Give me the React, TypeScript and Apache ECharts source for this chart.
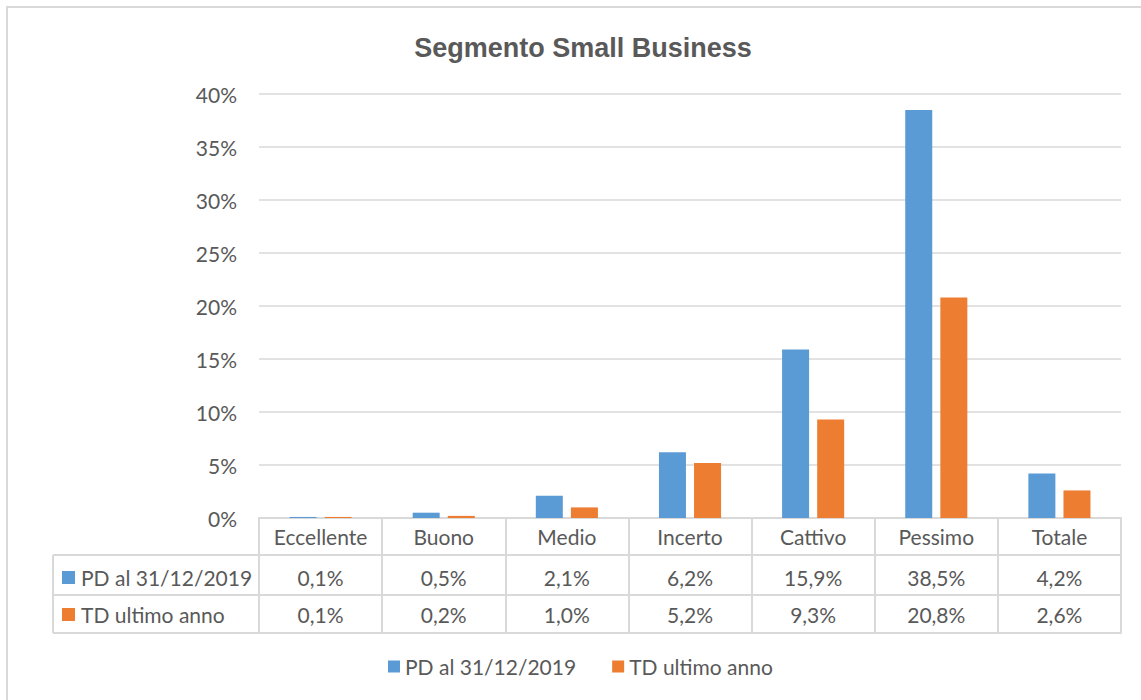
import React, { useEffect, useRef } from "react";
import * as echarts from "echarts";

const TITLE = "Segmento Small Business";
const categories = ["Eccellente", "Buono", "Medio", "Incerto", "Cattivo", "Pessimo", "Totale"];
const seriesNames = ["PD al 31/12/2019", "TD ultimo anno"];
const pdValues = [0.1, 0.5, 2.1, 6.2, 15.9, 38.5, 4.2];
const tdValues = [0.1, 0.2, 1.0, 5.2, 9.3, 20.8, 2.6];
const colors = ["#5B9BD5", "#ED7D31"];

const FONT = "Lato, 'Open Sans', sans-serif";
const TITLE_FONT = "'Liberation Sans', Arial, sans-serif";
const TEXT = "#595959";
const LINE = "#d9d9d9";
const FS = 21;

const fmt = (v: number) => v.toFixed(1).replace(".", ",") + "%";

export default function App() {
  const ref = useRef<HTMLDivElement>(null);
  useEffect(() => {
    document.body.style.margin = "0";
    const chart = echarts.init(ref.current!, undefined, { renderer: "svg" });
    const gridLeft = 259;
    const gridRight = 20;
    const gridTop = 94;
    const gridBottom = 182;
    const base = 700 - gridBottom; // y of 0%
    const rowLines = [base + 37, base + 77, base + 115];
    const rowCenters = [base + 59, base + 96];
    const tableLeft = 53;

    const graphic: any[] = [
      {
        type: "rect",
        shape: { x: 7, y: 7, width: 1300, height: 900 },
        style: { fill: "none", stroke: LINE, lineWidth: 2 },
        silent: true,
      },
      ...rowLines.map((y) => ({
        type: "line",
        shape: { x1: tableLeft, y1: y, x2: gridLeft, y2: y },
        style: { stroke: LINE, lineWidth: 2 },
      })),
      {
        type: "line",
        shape: { x1: tableLeft, y1: rowLines[0], x2: tableLeft, y2: rowLines[2] },
        style: { stroke: LINE, lineWidth: 2 },
      },
      ...seriesNames.flatMap((name, i) => [
        {
          type: "rect",
          shape: { x: 62, y: rowCenters[i] - 6, width: 13, height: 13 },
          style: { fill: colors[i] },
        },
        {
          type: "text",
          x: 81,
          y: rowCenters[i],
          style: {
            text: name,
            font: `${FS}px ${FONT}`,
            fill: TEXT,
            verticalAlign: "middle",
            align: "left",
          },
        },
      ]),
    ];

    const axisCommon = {
      type: "category" as const,
      data: categories,
      position: "bottom" as const,
      axisLine: { show: true, lineStyle: { color: LINE, width: 2 } },
      axisTick: { show: false },
      splitLine: { show: false },
    };

    chart.setOption({
      animation: false,
      title: {
        text: TITLE,
        left: 578,
        textAlign: "center",
        top: 29,
        textStyle: { fontFamily: TITLE_FONT, fontSize: 27, fontWeight: "bold", color: TEXT },
      },
      grid: { left: gridLeft, right: gridRight, top: gridTop, bottom: gridBottom, containLabel: false },
      legend: {
        data: seriesNames,
        left: 383,
        top: 651,
        icon: "rect",
        itemWidth: 12,
        itemHeight: 12,
        itemGap: 36,
        textStyle: { fontFamily: FONT, fontSize: FS, color: TEXT },
      },
      xAxis: [
        {
          ...axisCommon,
          axisTick: { show: true, interval: 0, length: 115, lineStyle: { color: LINE, width: 2 } },
          axisLabel: { interval: 0, margin: 8, fontFamily: FONT, fontSize: FS, color: TEXT },
        },
        {
          ...axisCommon,
          offset: 37,
          axisLabel: {
            interval: 0,
            margin: 12,
            fontFamily: FONT,
            fontSize: FS,
            color: TEXT,
            formatter: (_v: string, i: number) => fmt(pdValues[i]),
          },
        },
        {
          ...axisCommon,
          offset: 77,
          axisLabel: {
            interval: 0,
            margin: 9,
            fontFamily: FONT,
            fontSize: FS,
            color: TEXT,
            formatter: (_v: string, i: number) => fmt(tdValues[i]),
          },
        },
        {
          ...axisCommon,
          offset: 115,
          axisLabel: { show: false },
        },
      ],
      yAxis: {
        type: "value",
        min: 0,
        max: 40,
        interval: 5,
        axisLine: { show: false },
        axisTick: { show: false },
        axisLabel: { formatter: "{value}%", margin: 22, fontFamily: FONT, fontSize: FS, color: TEXT },
        splitLine: { lineStyle: { color: LINE, width: 1.5 } },
      },
      series: [
        {
          name: seriesNames[0],
          type: "bar",
          xAxisIndex: 0,
          data: pdValues,
          barWidth: 27,
          barGap: "30%",
          itemStyle: { color: colors[0] },
        },
        {
          name: seriesNames[1],
          type: "bar",
          xAxisIndex: 0,
          data: tdValues,
          barWidth: 27,
          barGap: "30%",
          itemStyle: { color: colors[1] },
        },
      ],
      graphic,
    });
    return () => chart.dispose();
  }, []);
  return <div ref={ref} style={{ width: 1141, height: 700 }} />;
}
